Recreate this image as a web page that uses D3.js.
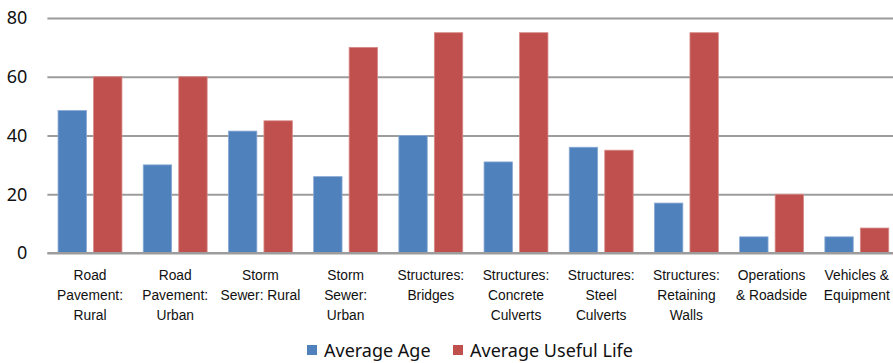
<!DOCTYPE html>
<html>
<head>
<meta charset="utf-8">
<script src="https://cdn.jsdelivr.net/npm/d3@7"></script>
<style>
  html, body { margin: 0; padding: 0; background: #fff; overflow: hidden; }
  svg { display: block; font-family: "Noto Sans", "Open Sans", sans-serif; }
</style>
</head>
<body>
<svg id="chart" width="893" height="363"></svg>
<script>
// Asset classes (multi-line labels) and their ages / useful lives in years
const categories = [
  ["Road", "Pavement:", "Rural"],
  ["Road", "Pavement:", "Urban"],
  ["Storm", "Sewer: Rural"],
  ["Storm", "Sewer:", "Urban"],
  ["Structures:", "Bridges"],
  ["Structures:", "Concrete", "Culverts"],
  ["Structures:", "Steel", "Culverts"],
  ["Structures:", "Retaining", "Walls"],
  ["Operations", "& Roadside"],
  ["Vehicles &", "Equipment"]
];
const averageAge = [48.5, 30, 41.5, 26, 40, 31, 36, 17, 5.5, 5.5];
const averageUsefulLife = [60, 60, 45, 70, 75, 75, 35, 75, 20, 8.5];
const seriesNames = ["Average Age", "Average Useful Life"];
const seriesColors = ["#4F81BD", "#C0504D"];
const yTicks = [0, 20, 40, 60, 80];
const titleText = "Aging Highway Infrastructure: Average Age vs. Useful Life (years)";

const svg = d3.select("#chart");
const margin = { left: 47.4, right: 899.4, top: 18, bottom: 253 };

const keys = categories.map((c, i) => i);
const x0 = d3.scaleBand().domain(keys).range([margin.left, margin.right]).paddingInner(0.25).paddingOuter(0.125);
const x1 = d3.scaleBand().domain([0, 1]).range([0, x0.bandwidth()]).paddingInner(0.2);
const y = d3.scaleLinear().domain([0, 80]).range([margin.bottom, margin.top]);

// Title (sits just above the top edge)
svg.append("text")
  .attr("x", 447).attr("y", -6)
  .attr("text-anchor", "middle")
  .attr("font-size", 17).attr("font-weight", "bold")
  .attr("fill", "#000")
  .text(titleText);

// Horizontal gridlines and y tick labels
const yAxis = d3.axisLeft(y).tickValues(yTicks).tickSize(-(893 - margin.left)).tickPadding(20);
const gy = svg.append("g").attr("transform", `translate(${margin.left},0)`).call(yAxis);
gy.select(".domain").remove();
gy.selectAll(".tick line").attr("stroke", "#9c9c9c").attr("stroke-width", 2);
gy.selectAll(".tick text")
  .attr("font-size", 18).attr("fill", "#111")
  .attr("font-family", "'Noto Sans', sans-serif")
  .attr("x", -20);

// Bars
const series = [averageAge, averageUsefulLife];
const groups = svg.append("g").selectAll("g")
  .data(keys).join("g")
  .attr("transform", d => `translate(${x0(d)},0)`);
groups.selectAll("rect")
  .data(i => series.map((s, k) => ({ k, v: s[i] })))
  .join("rect")
  .attr("x", d => x1(d.k))
  .attr("width", x1.bandwidth())
  .attr("y", d => y(d.v))
  .attr("height", d => y(0) - y(d.v))
  .attr("fill", d => seriesColors[d.k])
  .attr("stroke", d => d.k === 0 ? "#8aaad4" : "#d88a88")
  .attr("stroke-width", 0.8);

// Baseline over bar bottoms
svg.append("line")
  .attr("x1", margin.left).attr("x2", 893)
  .attr("y1", y(0)).attr("y2", y(0))
  .attr("stroke", "#9c9c9c").attr("stroke-width", 2);

// Category labels
const xAxis = d3.axisBottom(x0).tickSize(0).tickFormat(() => "");
const gx = svg.append("g").attr("transform", `translate(0,${y(0)})`).call(xAxis);
gx.select(".domain").remove();
gx.selectAll(".tick text").remove();
gx.selectAll(".tick").append("text")
  .attr("text-anchor", "middle")
  .attr("font-size", 13.8)
  .attr("fill", "#111")
  .selectAll("tspan")
  .data(d => categories[d])
  .join("tspan")
  .attr("x", 0)
  .attr("y", (d, i) => 27 + i * 20)
  .text(d => d);

// Legend
const legend = svg.append("g").attr("transform", "translate(0,350)");
const legendX = [307, 453];
seriesNames.forEach((name, k) => {
  legend.append("rect")
    .attr("x", legendX[k]).attr("y", -5)
    .attr("width", 10).attr("height", 10)
    .attr("fill", seriesColors[k]);
  legend.append("text")
    .attr("x", legendX[k] + 17).attr("y", 6.5)
    .attr("font-size", 18).attr("fill", "#111")
    .text(name);
});
</script>
</body>
</html>
